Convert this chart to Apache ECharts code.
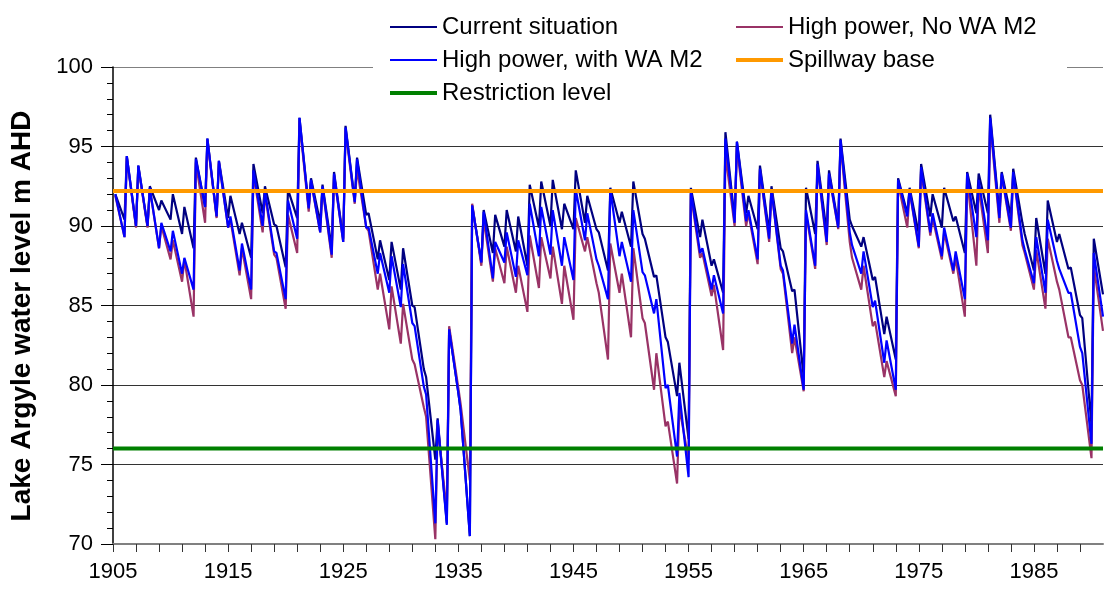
<!DOCTYPE html>
<html>
<head>
<meta charset="utf-8">
<title>Lake Argyle water level</title>
<script src="https://cdn.jsdelivr.net/npm/echarts@6/dist/echarts.min.js"></script>
<style>
  html, body { margin: 0; padding: 0; background: #fff; }
  #chart { width: 1104px; height: 590px; }
</style>
</head>
<body>
<div id="chart"></div>
<script>
// two readings per year: start of wet season (Jan) and end of wet season (Apr)
var yearStart = 1905;
var sampleOffsets = [0, 0.2];

var currentSituation = [
  null, 92.0, 90.4, 94.4, 90.0, 93.8, 90.0, 92.5, 91.0, 91.6, 90.4, 92.0, 89.5, 91.2, 88.6, 94.3, 91.2, 95.5, 90.6, 94.1,
  90.5, 91.9, 89.5, 90.2, 88.0, 93.9, 90.8, 92.5, 90.1, 90.0, 87.4, 92.3, 90.5, 96.8, 91.2, 93.0, 90.2, 92.6, 88.6, 93.4,
  89.2, 96.3, 91.6, 94.3, 90.7, 90.8, 87.9, 89.1, 86.6, 89.0, 86.0, 88.6, 85.0, 84.9, 81.0, 80.5, 75.3, 77.9, 71.3, 83.5,
  79.5, 78.4, 70.5, 91.3, 87.7, 91.0, 88.3, 90.7, 88.7, 91.0, 88.4, 90.6, 87.5, 92.6, 89.9, 92.8, 90.0, 92.9, 89.8, 91.4,
  89.8, 93.5, 90.2, 91.9, 89.8, 89.6, 87.2, 92.4, 90.2, 90.9, 88.7, 92.8, 89.5, 89.2, 86.8, 86.9, 83.0, 82.7, 79.3, 81.4,
  76.6, 92.4, 89.3, 90.4, 87.5, 87.9, 85.8, 95.9, 90.4, 95.3, 90.8, 91.9, 89.8, 93.8, 89.6, 92.5, 88.6, 88.4, 85.9, 86.0,
  80.5, 92.4, 89.5, 94.1, 89.6, 93.5, 90.1, 95.5, 90.4, 90.0, 88.7, 89.3, 86.6, 86.8, 83.2, 84.3, 81.6, 93.0, 90.8, 92.4,
  89.5, 93.9, 90.6, 92.0, 89.9, 92.4, 90.3, 90.6, 88.3, 93.4, 90.8, 93.3, 90.8, 97.0, 90.8, 93.4, 90.6, 93.6, 90.2, 89.5,
  87.2, 90.5, 87.0, 91.6, 89.0, 89.5, 87.3, 87.4, 84.4, 84.2, 77.5, 89.2, 85.7
];

var highPowerNoWA = [
  null, 91.9, 89.3, 94.3, 89.9, 93.7, 89.9, 92.3, 88.6, 90.0, 87.9, 89.1, 86.5, 87.9, 84.3, 94.0, 90.2, 95.4, 90.5, 94.0,
  89.9, 90.4, 86.9, 88.6, 85.4, 93.3, 89.6, 92.0, 88.2, 88.0, 84.8, 90.7, 88.3, 96.6, 90.9, 92.8, 89.6, 92.4, 88.0, 93.2,
  89.0, 96.0, 91.4, 93.6, 89.9, 89.7, 86.0, 87.0, 83.5, 86.2, 82.6, 85.1, 81.6, 81.3, 78.6, 78.0, 70.3, 77.5, 72.0, 83.7,
  79.8, 78.8, 74.0, 91.4, 87.5, 90.4, 86.5, 88.6, 86.4, 88.7, 85.8, 87.5, 84.6, 89.4, 86.1, 89.3, 86.7, 88.7, 85.1, 87.5,
  84.1, 90.5, 88.4, 89.3, 86.4, 85.8, 81.6, 88.9, 85.8, 87.0, 83.0, 88.6, 84.2, 83.9, 79.7, 82.0, 77.4, 77.7, 73.8, 78.6,
  75.3, 92.0, 88.0, 88.3, 85.6, 86.3, 82.2, 94.5, 90.0, 95.0, 90.0, 90.8, 87.6, 93.5, 89.0, 92.3, 87.3, 87.0, 82.0, 83.0,
  79.6, 90.8, 87.3, 93.8, 88.8, 93.2, 89.8, 95.2, 89.0, 88.0, 86.0, 87.5, 83.7, 84.0, 80.5, 81.5, 79.3, 92.7, 89.9, 92.2,
  88.6, 93.5, 89.4, 90.5, 87.9, 89.6, 87.0, 88.0, 84.3, 93.0, 87.5, 92.5, 88.3, 96.5, 90.2, 93.2, 89.7, 93.3, 88.8, 88.3,
  86.0, 88.5, 84.8, 89.2, 86.5, 86.0, 83.0, 83.0, 80.3, 80.0, 75.4, 87.5, 83.4
];

var highPowerWithWA = [
  null, 92.0, 89.3, 94.4, 90.0, 93.8, 90.0, 92.4, 88.6, 90.2, 88.4, 89.7, 87.0, 88.0, 86.0, 94.2, 91.2, 95.5, 90.6, 94.1,
  89.9, 90.6, 87.2, 88.9, 86.0, 93.5, 90.0, 92.2, 88.4, 88.3, 85.4, 91.6, 89.2, 96.8, 91.1, 92.9, 89.6, 92.5, 88.2, 93.3,
  89.0, 96.2, 91.5, 94.2, 89.9, 89.9, 87.0, 88.3, 85.8, 88.1, 84.9, 87.6, 83.9, 83.7, 79.9, 79.4, 71.3, 77.8, 71.2, 83.5,
  79.5, 78.4, 70.5, 91.3, 87.7, 90.9, 86.7, 89.0, 87.7, 89.6, 86.8, 89.1, 86.9, 91.4, 88.1, 91.2, 88.2, 91.0, 87.5, 89.3,
  86.6, 92.3, 89.1, 90.8, 87.9, 87.5, 85.4, 92.3, 88.1, 89.0, 86.5, 91.0, 87.1, 86.9, 84.5, 85.4, 79.8, 80.0, 75.5, 79.5,
  74.2, 92.2, 88.3, 88.6, 86.0, 86.9, 84.5, 95.5, 90.2, 95.3, 90.3, 91.0, 87.9, 93.6, 89.2, 92.3, 87.5, 87.2, 82.6, 83.8,
  79.7, 91.0, 87.5, 93.9, 89.0, 93.3, 89.9, 95.4, 89.6, 88.8, 87.0, 88.4, 84.9, 85.3, 81.4, 82.8, 79.7, 92.9, 90.6, 92.3,
  88.7, 93.7, 89.6, 90.8, 88.1, 89.9, 87.2, 88.4, 85.4, 93.3, 89.3, 92.9, 89.1, 96.8, 90.5, 93.3, 89.9, 93.4, 89.1, 88.5,
  86.4, 89.3, 85.8, 90.4, 87.8, 87.3, 85.8, 85.8, 82.4, 82.0, 76.3, 88.3, 84.3
];

var spillwayBase = 92.2;
var restrictionLevel = 76.0;
var yearSpan = 86;

function toPoints(values) {
  return values.map(function (v, i) {
    var t = Math.floor(i / 2) + sampleOffsets[i % 2];
    return [t, v];
  });
}

function levelLine(level) {
  return [[0, level], [yearSpan, level]];
}

var font = "'Liberation Sans', Arial, sans-serif";

function legendItem(name, width) {
  return { name: name, lineStyle: { width: width } };
}

function legendBlock(items, left) {
  return {
    data: items,
    orient: 'vertical',
    left: left,
    top: 10,
    itemWidth: 47,
    itemHeight: 14,
    itemGap: 9,
    z: 200,
    itemStyle: { opacity: 0 },
    textStyle: { fontFamily: font, fontSize: 24, lineHeight: 24, color: '#000' }
  };
}

var chart = echarts.init(document.getElementById('chart'), null, { renderer: 'canvas' });
chart.setOption({
  animation: false,
  backgroundColor: '#fff',
  grid: { left: 113, right: 1, top: 67, bottom: 46 },
  legend: [
    legendBlock([
      legendItem('Current situation', 2),
      legendItem('High power, with WA M2', 2),
      legendItem('Restriction level', 4)
    ], 383),
    legendBlock([
      legendItem('High power, No WA M2', 2),
      legendItem('Spillway base', 4)
    ], 729)
  ],
  graphic: [{
    type: 'rect',
    z: 100,
    shape: { x: 373, y: 0, width: 694, height: 100 },
    style: { fill: '#fff' }
  }, {
    type: 'text',
    z: 100,
    x: 22,
    y: 316,
    rotation: Math.PI / 2,
    style: {
      text: 'Lake Argyle water level m AHD',
      font: 'bold 28px ' + font,
      fill: '#000',
      align: 'center',
      verticalAlign: 'middle'
    }
  }],
  xAxis: {
    type: 'value',
    min: 0,
    max: yearSpan,
    interval: 2,
    axisLine: { lineStyle: { color: '#808080', width: 2 } },
    axisTick: { length: 8, lineStyle: { color: '#333' } },
    axisLabel: {
      margin: 17,
      fontFamily: font,
      fontSize: 22,
      color: '#000',
      showMaxLabel: false,
      formatter: function (v) {
        var r = Math.round(v);
        return r % 10 === 0 ? String(yearStart + r) : '';
      }
    },
    splitLine: { show: false }
  },
  yAxis: {
    type: 'value',
    min: 70,
    max: 100,
    interval: 5,
    axisLine: { show: true, lineStyle: { color: '#000', width: 1.5 } },
    axisTick: { show: true, length: 12, lineStyle: { color: '#000' } },
    minorTick: { show: true, splitNumber: 5, length: 6, lineStyle: { color: '#000' } },
    axisLabel: { margin: 20, fontFamily: font, fontSize: 22, color: '#000' },
    splitLine: {
      show: true,
      lineStyle: { color: ['#808080', '#333', '#333', '#333', '#333', '#333', '#808080'], width: 1 }
    }
  },
  series: [{
    name: 'Current situation',
    type: 'line',
    symbol: 'none',
    data: toPoints(currentSituation),
    lineStyle: { color: '#000080', width: 2.2 },
    itemStyle: { color: '#000080' }
  }, {
    name: 'High power, No WA M2',
    type: 'line',
    symbol: 'none',
    data: toPoints(highPowerNoWA),
    lineStyle: { color: '#993366', width: 2.2 },
    itemStyle: { color: '#993366' }
  }, {
    name: 'High power, with WA M2',
    type: 'line',
    symbol: 'none',
    data: toPoints(highPowerWithWA),
    lineStyle: { color: '#0000ff', width: 2.2 },
    itemStyle: { color: '#0000ff' }
  }, {
    name: 'Spillway base',
    type: 'line',
    symbol: 'none',
    data: levelLine(spillwayBase),
    lineStyle: { color: '#ff9900', width: 4 },
    itemStyle: { color: '#ff9900' }
  }, {
    name: 'Restriction level',
    type: 'line',
    symbol: 'none',
    data: levelLine(restrictionLevel),
    lineStyle: { color: '#008000', width: 4 },
    itemStyle: { color: '#008000' }
  }]
});
</script>
</body>
</html>
